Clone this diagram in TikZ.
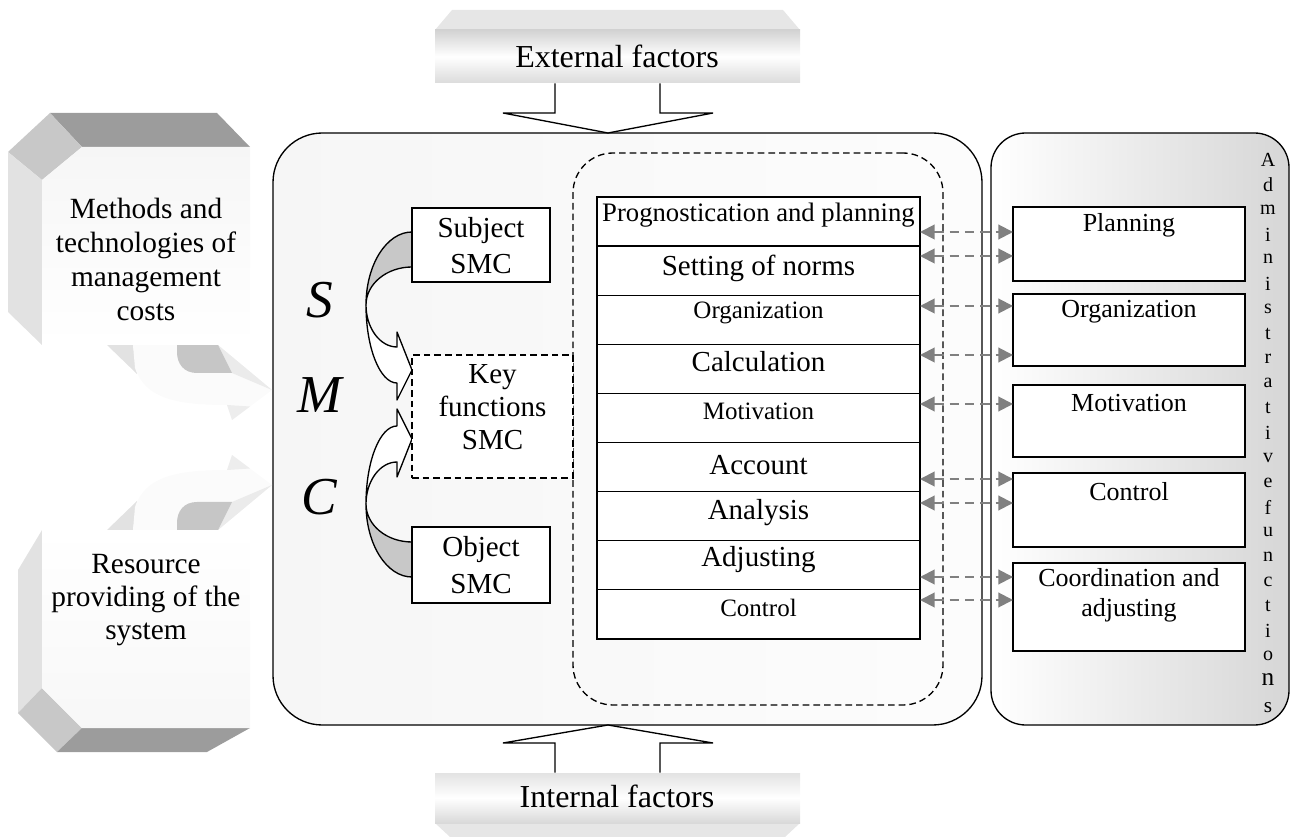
\documentclass[tikz,border=0pt]{standalone}
\usepackage{fontspec}
\setmainfont{Liberation Serif}
\usetikzlibrary{arrows.meta,calc,fit}
\newcommand\setsz[2]{\fontsize{#1}{#2}\selectfont}
\definecolor{linkgray}{HTML}{808080}
\definecolor{facedark}{HTML}{9C9C9C}
\definecolor{facemid}{HTML}{C8C8C8}
\definecolor{faceside}{HTML}{E2E2E2}
\definecolor{backband}{HTML}{C8C8C8}
\definecolor{bevellight}{HTML}{E6E6E6}

% curved feed arrow below the upper side block
\newcommand\feedarrow{%
  \fill[faceside] (107,345) -- (133,345) -- (137,374) -- cycle;
  \fill[gray!3] (133,345) -- (135,368) .. controls (145,398) and (175,405) .. (227,405)
      -- (232,420) -- (272,390) -- (218,345) -- cycle;
  \fill[gray!16] (218,345) -- (272,390) -- (232,373) -- cycle;
  \fill[gray!14] (227,405) -- (232,420) -- (250,406.5) -- cycle;
  \fill[gray!45] (177,345) -- (218,345) -- (232,373) -- (197,373)
      .. controls (184,373) and (177,364) .. (177,352) -- cycle;
}
% curved arrow from a SMC box to the key functions box
\newcommand\smcbend{%
  \draw[bandline,fill=backband] (412,232) .. controls (386.6,232) and (366,264.7) .. (366,305)
      .. controls (366,284) and (386.6,267) .. (412,267);
  \draw[bandline,fill=white] (366,305) .. controls (366,328) and (380,347) .. (397,347)
      -- (397,332) -- (412,370) -- (397,400) -- (397,383)
      .. controls (380,383) and (366,348) .. (366,305) -- cycle;
}

\begin{document}
\begin{tikzpicture}[x=0.75pt,y=-0.75pt,
  frame/.style={draw,line width=1pt,inner sep=0pt,outer sep=0pt},
  cell/.style={frame,fill=white},
  lbl/.style={inner sep=0pt,align=center},
  link/.style={draw=linkgray,line width=1.5pt,dash pattern=on 7pt off 4.5pt,
     {Triangle[length=11pt,width=11pt]}-{Triangle[length=11pt,width=11pt]}},
  blockarrow/.style={draw,line width=1pt,fill=white,line join=miter},
  bandline/.style={draw,line width=1pt,line join=round},
]
\useasboundingbox (0,0) rectangle (1292,837);

% ---------- main frames ----------
\node[frame,fit={(273,133) (982,725)},rounded corners=37pt,left color=gray!7,right color=gray!2] (main) {};
\node[frame,fit={(991,133) (1289,725)},rounded corners=26pt,left color=white,right color=gray!32] (adm) {};
\node[frame,dashed,dash pattern=on 5pt off 3pt,fit={(573,153) (943,705)},rounded corners=30pt] (grp) {};

% ---------- side blocks ----------
\feedarrow
\begin{scope}[shift={(0,875)},yscale=-1]
  \feedarrow
\end{scope}

% upper block
\fill[facedark] (50,113) -- (217,113) -- (250,147) -- (82,147) -- cycle;
\fill[facemid] (8,152) -- (50,113) -- (82,147) -- (42,180) -- cycle;
\fill[faceside] (8,152) -- (42,180) -- (42,345) -- (8,312) -- cycle;
\shade[top color=gray!7,bottom color=white] (82,147) -- (250,147) -- (250,345) -- (42,345) -- (42,180) -- cycle;
\node[lbl,font=\setsz{22}{25.5}] (meth) at (146,259) {Methods and\\technologies of\\management\\costs};

% lower block
\fill[faceside] (18,570) -- (42,530) -- (42,688) -- (18,713) -- cycle;
\fill[facemid] (18,713) -- (42,688) -- (82,728) -- (57,752) -- cycle;
\fill[facedark] (82,728) -- (250,728) -- (207,752) -- (57,752) -- cycle;
\shade[top color=white,bottom color=gray!6] (42,530) -- (250,530) -- (250,728) -- (82,728) -- (42,688) -- cycle;
\node[lbl,font=\setsz{22}{25}] (res) at (146,600) {Resource\\providing of the\\system};

% ---------- factors ----------
\fill[bevellight] (452,10) -- (783,10) -- (800,30) -- (435,30) -- cycle;
\node[inner sep=0pt,fit={(435,30) (800,83)},top color=gray!35,bottom color=gray!28,middle color=white] (ext) {};
\node[lbl,font=\setsz{24}{24}] (extt) at (617,56) {External factors};
\draw[blockarrow] (555,0 |- ext.south) -- (555,113) -- (503,113) -- (608,0 |- main.north)
   -- (713,113) -- (660,113) -- (660,0 |- ext.south);

\fill[bevellight] (435,823) -- (800,823) -- (785,837) -- (450,837) -- cycle;
\node[inner sep=0pt,fit={(435,773) (800,823)},top color=gray!22,bottom color=gray!30,middle color=white] (int) {};
\node[lbl,font=\setsz{24}{24}] (intt) at (617,796) {Internal factors};
\draw[blockarrow] (555,0 |- int.north) -- (555,743) -- (503,743) -- (608,0 |- main.south)
   -- (713,743) -- (660,743) -- (660,0 |- int.north);

% ---------- SMC ----------
\smcbend
\begin{scope}[shift={(0,809)},yscale=-1]
  \smcbend
\end{scope}
\node[cell,fit={(412,208) (550,282)}] (subj) {};
\node[lbl,font=\setsz{21.75}{27.5}] (subjt) at (481,245.5) {Subject\\SMC};
\node[cell,fit={(412,527) (550,603)}] (obj) {};
\node[lbl,font=\setsz{21.75}{27.5}] (objt) at (481,565) {Object\\SMC};
\node[cell,dashed,dash pattern=on 5pt off 3pt,fit={(412,355) (573,478)},lbl,font=\setsz{21.75}{25}] (key) {Key\\functions\\SMC};

\node[font=\setsz{40}{40}\itshape,inner sep=0pt] (ls) at (320,300) {S};
\node[font=\setsz{40}{40}\itshape,inner sep=0pt] (lm) at (320,395) {M};
\node[font=\setsz{40}{40}\itshape,inner sep=0pt] (lc) at (319,497) {C};

% ---------- function column ----------
\foreach \i in {0,...,8}
  \node[cell,fit={(597,{197+49.1*\i}) (920,{246.1+49.1*\i})}] (r\i) {};
\foreach \txt/\y/\s [count=\i from 0] in
  {Prognostication and planning/215/20, Setting of norms/268/21.75,
   Organization/313/18.75, Calculation/362/21.75, Motivation/411/18.75,
   Account/465/21.75, Analysis/513/21.75, Adjusting/560/21.75, Control/608/18.75}
  \node[lbl,font=\setsz{\s}{\s}] (rt\i) at (758.5,\y) {\txt};

% ---------- administrative functions ----------
\foreach \nm/\ya/\yb/\txt/\yt in
  {pl/207/281/Planning/225, org/294/366/Organization/312,
   mot/385/457/Motivation/403, ctl/473/547/Control/492}
{
  \node[cell,fit={(1013,\ya) (1245,\yb)}] (\nm) {};
  \node[lbl,font=\setsz{19.5}{19.5}] (\nm t) at (1129,\yt) {\txt};
}
\node[cell,fit={(1013,563) (1245,651)}] (crd) {};
\node[lbl,font=\setsz{19.5}{22.5}] (crdt) at (1129,595) {Coordination and\\adjusting};

\foreach \ch [count=\i from 0] in {A,d,m,i,n,i,s,t,r,a,t,i,v,e,f,u,n,c,t,i,o}
  \node[lbl,font=\setsz{15}{15}] (v\i) at (1268,{160+24.8*\i}) {\ch};
\node[lbl,font=\setsz{19}{19}] (v21) at (1268,680) {n};
\node[lbl,font=\setsz{16}{16}] (v22) at (1268,708) {s};

% ---------- links ----------
\foreach \r/\y/\b in {0/232/pl, 1/256/pl, 2/306/org, 3/355/org, 4/404/mot,
                      5/479/ctl, 6/503/ctl, 7/577/crd, 8/600/crd}
{
  \coordinate (ls\r) at (r\r.east |- 0,\y);
  \draw[link] (ls\r) -- (ls\r -| \b.west);
}
\end{tikzpicture}
\end{document}
